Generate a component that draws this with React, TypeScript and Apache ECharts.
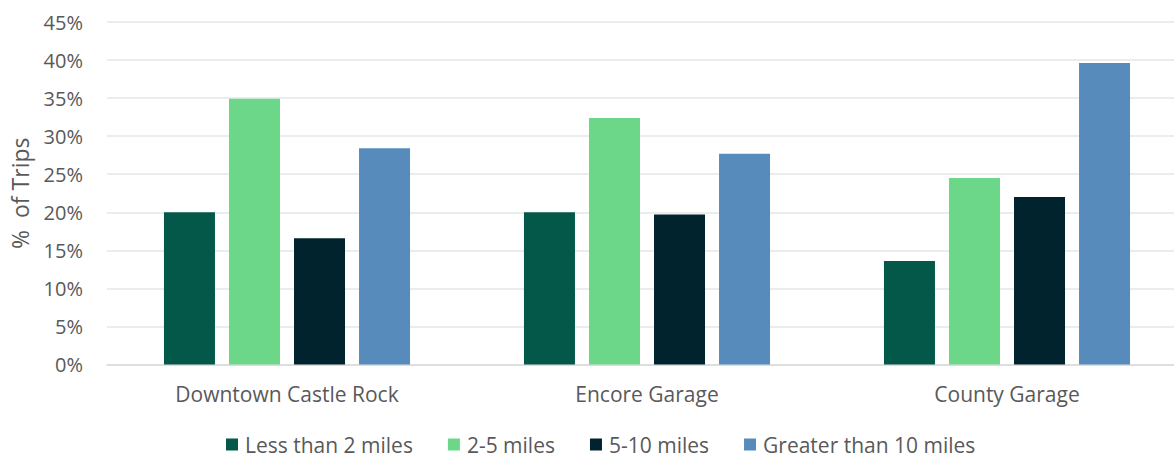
import React, { useEffect, useRef } from "react";
import * as echarts from "echarts";

const categories = ["Downtown Castle Rock", "Encore Garage", "County Garage"];
const seriesNames = ["Less than 2 miles", "2-5 miles", "5-10 miles", "Greater than 10 miles"];
const lessThan2 = [20.0, 20.0, 13.6];
const twoToFive = [34.9, 32.4, 24.5];
const fiveToTen = [16.6, 19.7, 22.0];
const greaterThan10 = [28.4, 27.7, 39.6];
const colors = ["#03584A", "#6CD689", "#01232E", "#568BBC"];

export default function App() {
  const ref = useRef<HTMLDivElement>(null);
  useEffect(() => {
    document.body.style.margin = "0";
    document.body.style.overflow = "hidden";
    const chart = echarts.init(ref.current!, null, { renderer: "svg" });
    const font = "'Open Sans', sans-serif";
    const data = [lessThan2, twoToFive, fiveToTen, greaterThan10];
    chart.setOption({
      animation: false,
      textStyle: { fontFamily: font },
      grid: { left: 107, right: 0, top: 22, bottom: 94.5, containLabel: false },
      legend: {
        top: 429,
        left: 221,
        padding: 5,
        itemWidth: 12,
        itemHeight: 12,
        itemGap: 35,
        icon: "rect",
        textStyle: { fontFamily: font, fontSize: 21, color: "#595959", padding: [0, 0, 0, 2] },
        data: seriesNames,
      },
      xAxis: {
        type: "category",
        data: categories,
        axisLine: { lineStyle: { color: "#d9d9d9", width: 1.5 } },
        axisTick: { show: false },
        axisLabel: { fontFamily: font, fontSize: 21, color: "#595959", margin: 19 },
      },
      yAxis: {
        type: "value",
        min: 0,
        max: 45,
        interval: 5,
        name: "%  of Trips",
        nameLocation: "middle",
        nameGap: 76,
        nameTextStyle: { fontFamily: font, fontSize: 23, color: "#595959" },
        axisLine: { show: false },
        axisTick: { show: false },
        splitLine: { lineStyle: { color: "#e2e9e7", width: 1.5 } },
        axisLabel: { fontFamily: font, fontSize: 20, color: "#595959", margin: 24, formatter: "{value}%" },
      },
      series: seriesNames.map((name, i) => ({
        name,
        type: "bar",
        data: data[i],
        barWidth: 51,
        barGap: "27.5%",
        itemStyle: { color: colors[i] },
      })),
    });
    return () => chart.dispose();
  }, []);
  return <div ref={ref} style={{ width: 1187, height: 459 }} />;
}
